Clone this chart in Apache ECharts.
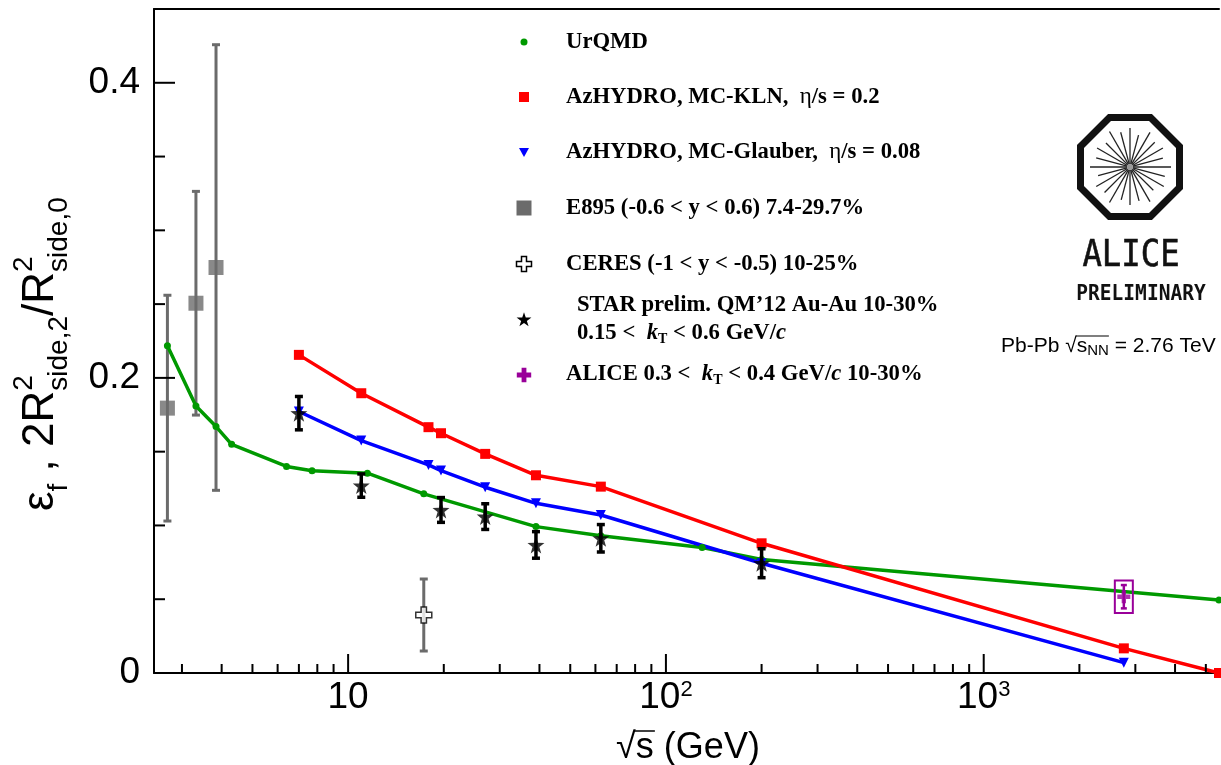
<!DOCTYPE html>
<html>
<head>
<meta charset="utf-8">
<title>Freeze-out eccentricity vs collision energy</title>
<script src="https://cdn.jsdelivr.net/npm/echarts@6/dist/echarts.min.js"></script>
<style>
  html, body { margin: 0; padding: 0; background: #ffffff; }
  #chart { width: 1221px; height: 765px; }
</style>
</head>
<body>
<div id="chart"></div>
<script>
// ---- data: sqrt(s_NN) in GeV and eccentricity values ----
const urqmdX = [2.7, 3.32, 3.84, 4.3, 6.4, 7.7, 11.5, 17.3, 39, 62.4, 130, 200, 5500];
const urqmdY = [0.2217, 0.181, 0.167, 0.155, 0.140, 0.137, 0.1354, 0.1214, 0.0992, 0.093, 0.085, 0.077, 0.0495];

const klnX = [7.0, 11.0, 17.9, 19.6, 27, 39, 62.4, 200, 2760, 5500];
const klnY = [0.2156, 0.1896, 0.1666, 0.1625, 0.1485, 0.134, 0.1263, 0.0879, 0.0167, 0.0];

const glauberX = [7.0, 11.0, 17.9, 19.6, 27, 39, 62.4, 200, 2760];
const glauberY = [0.1772, 0.1575, 0.141, 0.1372, 0.1259, 0.115, 0.1071, 0.0744, 0.007];

const e895X = [2.7, 3.32, 3.84];
const e895Y = [0.1795, 0.2506, 0.2748];
const e895Err = [0.0765, 0.0758, 0.151];

const ceresX = [17.3];
const ceresY = [0.0393];
const ceresErr = [0.0244];

const starX = [7.0, 11.0, 19.6, 27, 39, 62.4, 200];
const starY = [0.1761, 0.127, 0.1105, 0.106, 0.0868, 0.0913, 0.0744];
const starErr = [0.0113, 0.0079, 0.0084, 0.0087, 0.009, 0.0093, 0.0098];

const aliceX = [2760];
const aliceY = [0.0517];
const aliceStat = [0.0079];
const aliceSys = [0.011];

// axis ranges and tick positions
const xRange = [2.45, 5500];
const yRange = [0, 0.45];
const xMajorTicks = [10, 100, 1000];
const xMinorTicks = [3, 4, 5, 6, 7, 8, 9, 20, 30, 40, 50, 60, 70, 80, 90,
                     200, 300, 400, 500, 600, 700, 800, 900, 2000, 3000, 4000, 5000];
const yMajorTicks = [0.2, 0.4];
const yMinorTicks = [0.05, 0.1, 0.15, 0.25, 0.3, 0.35];

// legend entries
const legendTexts = {
  urqmd: 'UrQMD',
  kln: ['AzHYDRO, MC-KLN,  ', 'η', '/s = 0.2'],
  glauber: ['AzHYDRO, MC-Glauber,  ', 'η', '/s = 0.08'],
  e895: 'E895 (-0.6 < y < 0.6) 7.4-29.7%',
  ceres: 'CERES (-1 < y < -0.5) 10-25%',
  star1: 'STAR prelim. QM’12 Au-Au 10-30%',
  star2: ['0.15 <  ', 'k', 'T', ' < 0.6 GeV/', 'c'],
  alice: ['ALICE 0.3 <  ', 'k', 'T', ' < 0.4 GeV/', 'c', ' 10-30%']
};

// ---- colours ----
const GREEN = '#009900', RED = '#ff0000', BLUE = '#0000ff', GREY = '#6b6b6b', PURPLE = '#990099';

// ---- marker shapes ----
const STAR_PATH = 'path://M0,-10L2.35,-3.24L9.51,-3.09L3.8,1.24L5.88,8.09L0,4L-5.88,8.09L-3.8,1.24L-9.51,-3.09L-2.35,-3.24Z';
const CROSS_PATH = 'path://M-1,-3L1,-3L1,-1L3,-1L3,1L1,1L1,3L-1,3L-1,1L-3,1L-3,-1L-1,-1Z';

function pairs(xs, ys) { return xs.map((x, i) => [x, ys[i]]); }
function triples(xs, ys, es) { return xs.map((x, i) => [x, ys[i], es[i]]); }

// ---- text helpers (sequential pieces with sub/superscripts) ----
const measureCtx = document.createElement('canvas').getContext('2d');
function textWidth(t, font) { measureCtx.font = font; return measureCtx.measureText(t).width; }
function textRun(x0, y0, pieces, color) {
  let x = x0;
  const els = [], xs = [];
  pieces.forEach(p => {
    xs.push(x);
    els.push({
      type: 'text', x: x, y: y0 + (p.dy || 0), silent: true,
      style: { text: p.t, font: p.f, fill: color || '#000', align: 'left', verticalAlign: 'middle' }
    });
    if (!p.stack) x += textWidth(p.t, p.f);
  });
  return { els, xs, end: x };
}

// ---- error bar drawing through the axes ----
function errorBars(color, width, capHalf) {
  return function (params, api) {
    const x = api.value(0), y = api.value(1), e = api.value(2);
    const hi = api.coord([x, y + e]), lo = api.coord([x, y - e]);
    const st = { stroke: color, lineWidth: width };
    return {
      type: 'group', children: [
        { type: 'line', shape: { x1: hi[0], y1: hi[1], x2: lo[0], y2: lo[1] }, style: st },
        { type: 'line', shape: { x1: hi[0] - capHalf, y1: hi[1], x2: hi[0] + capHalf, y2: hi[1] }, style: st },
        { type: 'line', shape: { x1: lo[0] - capHalf, y1: lo[1], x2: lo[0] + capHalf, y2: lo[1] }, style: st }
      ]
    };
  };
}
function sysBox(color, halfWidthPx) {
  return function (params, api) {
    const x = api.value(0), y = api.value(1), e = api.value(2);
    const hi = api.coord([x, y + e]), lo = api.coord([x, y - e]);
    return {
      type: 'rect',
      shape: { x: hi[0] - halfWidthPx, y: hi[1], width: 2 * halfWidthPx, height: lo[1] - hi[1] },
      style: { fill: 'none', stroke: color, lineWidth: 2 }
    };
  };
}
function xTicks(params, api) {
  const p = api.coord([api.value(0), yRange[0]]);
  const len = api.value(1) ? 19 : 9;
  return { type: 'line', shape: { x1: p[0], y1: p[1], x2: p[0], y2: p[1] - len }, style: { stroke: '#000', lineWidth: 2 } };
}
function yTicks(params, api) {
  const p = api.coord([xRange[0], api.value(0)]);
  const len = api.value(1) ? 21 : 11;
  return { type: 'line', shape: { x1: p[0], y1: p[1], x2: p[0] + len, y2: p[1] }, style: { stroke: '#000', lineWidth: 2 } };
}

// ---- static decorations: legend, logo, axis titles ----
const graphics = [];

// y-axis title: eps_f , 2R^2_{side,2}/R^2_{side,0}
(function () {
  const M = '44px "Liberation Sans"', S = '28px "Liberation Sans"';
  const run = textRun(0, 0, [
    { t: 'ε', f: M }, { t: 'f', f: S, dy: 18 }, { t: ' , ', f: M }, { t: '2R', f: M },
    { t: '2', f: S, dy: -17, stack: true }, { t: 'side,2', f: S, dy: 18 },
    { t: '/R', f: M }, { t: '2', f: S, dy: -17, stack: true }, { t: 'side,0', f: S, dy: 18 }
  ]);
  graphics.push({ type: 'group', x: 41, y: 511, rotation: Math.PI / 2, children: run.els });
})();

// x-axis title: sqrt(s) (GeV)
(function () {
  const F = '36px "Liberation Sans"';
  const pieces = [{ t: '√', f: F }, { t: 's', f: F }, { t: ' (GeV)', f: F }];
  const total = pieces.reduce((a, p) => a + textWidth(p.t, p.f), 0);
  const x0 = 688 - total / 2, y0 = 748;
  const run = textRun(x0, y0, pieces);
  run.els.forEach(e => graphics.push(e));
  graphics.push({ type: 'line', silent: true,
    shape: { x1: run.xs[1] - 1, y1: y0 - 17, x2: run.xs[2] + 1, y2: y0 - 17 },
    style: { stroke: '#000', lineWidth: 1.5 } });
})();

// legend
(function () {
  const B = 'bold 22.7px "Liberation Serif"', BI = 'italic bold 22.7px "Liberation Serif"';
  const BS = 'bold 14px "Liberation Serif"', G = '23px "Liberation Serif"';
  const ix = 524, tx = 566;
  const add = r => r.els.forEach(e => graphics.push(e));

  graphics.push({ type: 'circle', silent: true, shape: { cx: ix, cy: 42, r: 3.5 }, style: { fill: GREEN } });
  add(textRun(tx, 42, [{ t: legendTexts.urqmd, f: B }]));

  graphics.push({ type: 'rect', silent: true, shape: { x: ix - 5, y: 97 - 5, width: 10, height: 10 }, style: { fill: RED } });
  add(textRun(tx, 97, [{ t: legendTexts.kln[0], f: B }, { t: legendTexts.kln[1], f: G }, { t: legendTexts.kln[2], f: B }]));

  graphics.push({ type: 'polygon', silent: true, shape: { points: [[ix - 5, 148], [ix + 5, 148], [ix, 157]] }, style: { fill: BLUE } });
  add(textRun(tx, 152, [{ t: legendTexts.glauber[0], f: B }, { t: legendTexts.glauber[1], f: G }, { t: legendTexts.glauber[2], f: B }]));

  graphics.push({ type: 'rect', silent: true, shape: { x: ix - 7.5, y: 208 - 7.5, width: 15, height: 15 }, style: { fill: GREY } });
  add(textRun(tx, 208, [{ t: legendTexts.e895, f: B }]));

  const cross = (cx, cy, a) => [[cx - a, cy - 3 * a], [cx + a, cy - 3 * a], [cx + a, cy - a], [cx + 3 * a, cy - a], [cx + 3 * a, cy + a],
    [cx + a, cy + a], [cx + a, cy + 3 * a], [cx - a, cy + 3 * a], [cx - a, cy + a], [cx - 3 * a, cy + a], [cx - 3 * a, cy - a], [cx - a, cy - a]];
  graphics.push({ type: 'polygon', silent: true, shape: { points: cross(ix, 264, 2.5) }, style: { fill: '#fff', stroke: '#000', lineWidth: 1.5 } });
  add(textRun(tx, 264, [{ t: legendTexts.ceres, f: B }]));

  const starPts = [];
  for (let k = 0; k < 10; k++) {
    const ang = -Math.PI / 2 + k * Math.PI / 5;
    const r = k % 2 ? 3 : 7.8;
    starPts.push([ix + r * Math.cos(ang), 320 + r * Math.sin(ang)]);
  }
  graphics.push({ type: 'polygon', silent: true, shape: { points: starPts }, style: { fill: '#000' } });
  add(textRun(577, 305, [{ t: legendTexts.star1, f: B }]));
  add(textRun(577, 333, [
    { t: legendTexts.star2[0], f: B }, { t: legendTexts.star2[1], f: BI }, { t: legendTexts.star2[2], f: BS, dy: 6 },
    { t: legendTexts.star2[3], f: B }, { t: legendTexts.star2[4], f: BI }]));

  graphics.push({ type: 'polygon', silent: true, shape: { points: cross(ix, 375, 2.4) }, style: { fill: PURPLE } });
  add(textRun(tx, 374, [
    { t: legendTexts.alice[0], f: B }, { t: legendTexts.alice[1], f: BI }, { t: legendTexts.alice[2], f: BS, dy: 6 },
    { t: legendTexts.alice[3], f: B }, { t: legendTexts.alice[4], f: BI }, { t: legendTexts.alice[5], f: B }]));
})();

// ALICE logo
(function () {
  const cx = 1130, cy = 167, flat = 49.5;
  const R = flat / Math.cos(Math.PI / 8);
  const oct = [];
  for (let k = 0; k < 8; k++) {
    const a = Math.PI / 8 + k * Math.PI / 4;
    oct.push([cx + R * Math.cos(a), cy + R * Math.sin(a)]);
  }
  graphics.push({ type: 'polygon', silent: true, shape: { points: oct }, style: { fill: '#fff', stroke: '#111', lineWidth: 7 } });
  const spokeLen = [41, 36, 39, 33, 40, 35, 38, 34, 41, 36, 39, 33, 40, 35, 38, 34, 41, 36, 39, 33, 40, 35, 38, 34];
  spokeLen.forEach((L, k) => {
    const a = k * Math.PI / 12;
    graphics.push({ type: 'line', silent: true,
      shape: { x1: cx + 3 * Math.cos(a), y1: cy + 3 * Math.sin(a), x2: cx + L * Math.cos(a), y2: cy + L * Math.sin(a) },
      style: { stroke: '#222', lineWidth: 1.3 } });
  });
  graphics.push({ type: 'circle', silent: true, shape: { cx: cx, cy: cy, r: 3 }, style: { fill: '#999' } });
  graphics.push({ type: 'text', silent: true, x: 1131, y: 256, scaleX: 0.85,
    style: { text: 'ALICE', font: '38px "DejaVu Sans Mono"', fill: '#111', stroke: '#111', lineWidth: 0.6,
             align: 'center', verticalAlign: 'middle' } });
  graphics.push({ type: 'text', silent: true, x: 1141, y: 295, scaleX: 0.93,
    style: { text: 'PRELIMINARY', font: 'bold 21px "DejaVu Sans Mono"', fill: '#111', align: 'center', verticalAlign: 'middle' } });

  const F = '21px "Liberation Sans"', FS = '15px "Liberation Sans"';
  const run = textRun(1001, 346, [{ t: 'Pb-Pb ', f: F }, { t: '√', f: F }, { t: 's', f: F }, { t: 'NN', f: FS, dy: 5 }, { t: ' = 2.76 TeV', f: F }]);
  run.els.forEach(e => graphics.push(e));
  graphics.push({ type: 'line', silent: true,
    shape: { x1: run.xs[2] - 1, y1: 336, x2: run.xs[4], y2: 336 }, style: { stroke: '#000', lineWidth: 1.2 } });
})();

// ---- chart ----
const chart = echarts.init(document.getElementById('chart'), null, { renderer: 'canvas' });
const axisFont = '"Liberation Sans", Arial, sans-serif';

chart.setOption({
  animation: false,
  backgroundColor: '#ffffff',
  grid: { left: 154, right: 2, top: 9, bottom: 92, outerBoundsMode: 'none', containLabel: false },
  xAxis: [{
    type: 'log', logBase: 10, min: xRange[0], max: xRange[1], position: 'bottom',
    axisLine: { show: true, lineStyle: { color: '#000', width: 2 } },
    axisTick: { show: false }, minorTick: { show: false }, splitLine: { show: false },
    axisLabel: {
      show: true, margin: 6, showMinLabel: false, showMaxLabel: false, hideOverlap: false,
      formatter: function (v) {
        const e = Math.round(Math.log10(v));
        if (Math.abs(Math.log10(v) - e) > 1e-6 || e < 1 || e > 3) return '';
        return e === 1 ? '{b|10}{p|\u200b}' : '{b|10}{p|' + e + '}';
      },
      rich: {
        b: { fontFamily: axisFont, fontSize: 37, lineHeight: 37, color: '#000', verticalAlign: 'bottom' },
        p: { fontFamily: axisFont, fontSize: 22, lineHeight: 22, color: '#000', verticalAlign: 'top', padding: [0, 0, 28, 0] }
      }
    }
  }, {
    type: 'log', logBase: 10, min: xRange[0], max: xRange[1], position: 'top',
    axisLine: { show: true, lineStyle: { color: '#000', width: 2 } },
    axisTick: { show: false }, axisLabel: { show: false }, splitLine: { show: false }
  }],
  yAxis: {
    type: 'value', min: yRange[0], max: yRange[1], interval: 0.2,
    axisLine: { show: true, lineStyle: { color: '#000', width: 2 } },
    axisTick: { show: false }, splitLine: { show: false },
    axisLabel: {
      margin: 14, showMaxLabel: false, color: '#000', fontFamily: axisFont, fontSize: 37,
      formatter: v => (v === 0 ? '0' : String(+v.toFixed(2)))
    }
  },
  graphic: graphics,
  series: [
    { name: 'E895 err', type: 'custom', renderItem: errorBars(GREY, 3, 4), data: triples(e895X, e895Y, e895Err),
      encode: { x: 0, y: 1 }, z: 2, silent: true },
    { name: 'E895', type: 'scatter', symbol: 'rect', symbolSize: 15, itemStyle: { color: GREY },
      data: pairs(e895X, e895Y), z: 2, silent: true },
    { name: 'UrQMD', type: 'line', data: pairs(urqmdX, urqmdY), symbol: 'circle', symbolSize: 7, showSymbol: true,
      lineStyle: { color: GREEN, width: 3.5 }, itemStyle: { color: GREEN }, z: 3, silent: true },
    { name: 'AzHYDRO, MC-KLN', type: 'line', data: pairs(klnX, klnY), symbol: 'rect', symbolSize: 10,
      lineStyle: { color: RED, width: 3.5 }, itemStyle: { color: RED }, z: 3, silent: true },
    { name: 'AzHYDRO, MC-Glauber', type: 'line', data: pairs(glauberX, glauberY), symbol: 'triangle', symbolRotate: 180,
      symbolSize: 10, lineStyle: { color: BLUE, width: 3.5 }, itemStyle: { color: BLUE }, z: 3, silent: true },
    { name: 'CERES err', type: 'custom', renderItem: errorBars(GREY, 3, 4), data: triples(ceresX, ceresY, ceresErr),
      encode: { x: 0, y: 1 }, z: 4, silent: true },
    { name: 'CERES', type: 'scatter', symbol: CROSS_PATH, symbolSize: 16, data: pairs(ceresX, ceresY),
      itemStyle: { color: '#ffffff', borderColor: '#000', borderWidth: 1.5 }, z: 4, silent: true },
    { name: 'STAR err', type: 'custom', renderItem: errorBars('#000', 3.5, 4), data: triples(starX, starY, starErr),
      encode: { x: 0, y: 1 }, z: 5, silent: true },
    { name: 'STAR', type: 'scatter', symbol: STAR_PATH, symbolSize: 17, data: pairs(starX, starY),
      itemStyle: { color: '#000' }, z: 5, silent: true },
    { name: 'ALICE sys', type: 'custom', renderItem: sysBox(PURPLE, 9), data: triples(aliceX, aliceY, aliceSys),
      encode: { x: 0, y: 1 }, z: 5, silent: true },
    { name: 'ALICE err', type: 'custom', renderItem: errorBars(PURPLE, 2.5, 3), data: triples(aliceX, aliceY, aliceStat),
      encode: { x: 0, y: 1 }, z: 5, silent: true },
    { name: 'ALICE', type: 'scatter', symbol: CROSS_PATH, symbolSize: 13, data: pairs(aliceX, aliceY),
      itemStyle: { color: PURPLE }, z: 6, silent: true },
    { name: 'x ticks', type: 'custom', renderItem: xTicks, encode: { x: 0 }, z: 7, silent: true,
      data: xMinorTicks.map(v => [v, 0]).concat(xMajorTicks.map(v => [v, 1])) },
    { name: 'y ticks', type: 'custom', renderItem: yTicks, encode: { y: 0 }, z: 7, silent: true,
      data: yMinorTicks.map(v => [v, 0]).concat(yMajorTicks.map(v => [v, 1])) }
  ]
});
</script>
</body>
</html>
